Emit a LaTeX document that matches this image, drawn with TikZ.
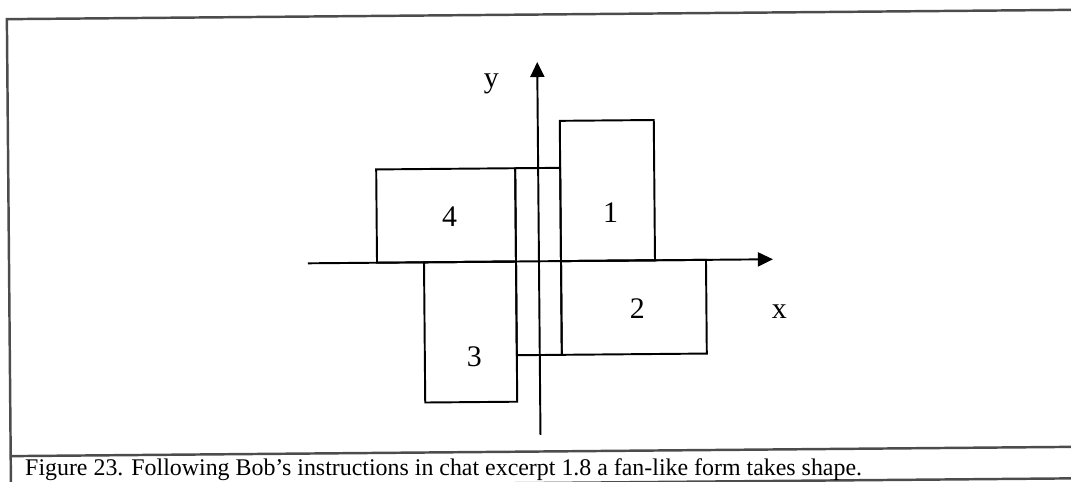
\documentclass[tikz,border=0pt]{standalone}
\usepackage{fontspec}
\setmainfont{Liberation Serif}
\usetikzlibrary{arrows.meta}
\tikzstyle{panel}     = [draw=black, line width=1.1pt]
\tikzstyle{axisline}  = [line width=1.1pt, -{Triangle[length=0.3cm, width=0.28cm]}]
\tikzstyle{frameline} = [draw=black!70, line width=1.4pt]
\tikzstyle{num}       = [font=\fontsize{17}{20}\selectfont, inner sep=0pt]
\tikzstyle{caption}   = [font=\fontsize{13.6}{16}\selectfont, anchor=base west, inner sep=0pt]

\begin{document}
\begin{tikzpicture}[x=0.02cm, y=-0.02cm]
  \useasboundingbox (0,0) rectangle (1071,481);
  \begin{scope}[rotate around={0.5:(540,262)}]
  % frame and caption
  \draw[frameline] (9,500) -- (9,14.5) -- (1090,14.5);
  \draw[frameline] (9,451.5) -- (1090,451.5);
  \draw[frameline] (9,483) -- (1090,483);
  \node[caption] (cap) at (23,471)
        {Figure 23. Following Bob’s instructions in chat excerpt 1.8 a fan-like form takes shape.};

  % the four panels and the small one between them
  \draw[panel] (377,168) rectangle (516,261.3);
  \draw[panel] (561,121) rectangle (655,261.3);
  \draw[panel] (561,261.3) rectangle (706,355);
  \draw[panel] (424,261.3) rectangle (516,401.5);
  \draw[panel] (516,168) rectangle (561,355);

  \node[num] (n4) at (450,216) {4};
  \node[num] (n1) at (611,213.6) {1};
  \node[num] (n2) at (637,309) {2};
  \node[num] (n3) at (473.5,356) {3};

  % axes
  \coordinate (xstart) at (308,261.3);
  \coordinate (xend)   at (773,261.3);
  \coordinate (ystart) at (539,435);
  \coordinate (yend)   at (539,62);
  \draw[axisline] (xstart) -- (xend);
  \draw[axisline] (ystart) -- (yend);
  \node[num] (xlab) at (779,313.8) {x};
  \node[num] (ylab) at (493,83) {y};
  \end{scope}
\end{tikzpicture}
\end{document}
